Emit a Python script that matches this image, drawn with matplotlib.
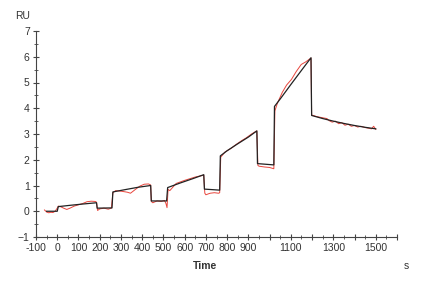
import matplotlib
matplotlib.use('Agg')
import matplotlib.pyplot as plt
from matplotlib.ticker import MultipleLocator, FixedLocator

plt.rcParams['font.family'] = ['Liberation Sans', 'DejaVu Sans']

# fitted curve (black), breakpoints
fit_t = [-50, 0, 5, 60, 120, 185, 188, 258, 262, 320, 380, 440, 443, 515, 520,
         580, 640, 690, 693, 765, 768, 800, 850, 900, 940, 943, 1020, 1023,
         1050, 1100, 1150, 1195, 1198, 1250, 1300, 1350, 1400, 1450, 1500]
fit_ru = [0.0, 0.0, 0.18, 0.23, 0.28, 0.33, 0.12, 0.13, 0.75, 0.84, 0.93, 1.0, 0.4, 0.4, 0.92,
          1.1, 1.27, 1.42, 0.86, 0.82, 2.15, 2.35, 2.62, 2.88, 3.12, 1.85, 1.8, 4.07,
          4.36, 4.92, 5.47, 5.96, 3.72, 3.6, 3.5, 3.41, 3.33, 3.26, 3.2]

# measured response (red)
meas_t = [-60, -50, -40, -30, -20, -10, 0, 5, 15, 30, 45, 60, 80, 100, 120, 140,
          160, 180, 185, 190, 200, 220, 240, 255, 262, 275, 300, 330, 345, 370, 390,
          410, 430, 440, 443, 450, 470, 490, 505, 512, 517, 522, 530, 560, 600,
          650, 690, 695, 700, 720, 740, 760, 765, 770, 790, 820, 840, 870, 890, 915,
          935, 940, 945, 950, 975, 1000, 1020, 1025, 1037, 1060, 1080, 1103, 1125,
          1149, 1170, 1195, 1198, 1220, 1250, 1270, 1280, 1295, 1310, 1325, 1340,
          1355, 1370, 1385, 1400, 1415, 1430, 1450, 1470, 1480, 1490, 1500]
meas_ru = [0.05, -0.03, -0.06, -0.04, -0.05, 0.0, 0.12, 0.2, 0.18, 0.12, 0.07, 0.12, 0.2, 0.25, 0.3, 0.37,
           0.39, 0.38, 0.35, 0.03, 0.09, 0.12, 0.08, 0.12, 0.72, 0.8, 0.78, 0.74, 0.7, 0.86, 0.98,
           1.05, 1.06, 1.02, 0.38, 0.33, 0.4, 0.38, 0.42, 0.3, 0.14, 0.85, 0.8, 1.08, 1.2,
           1.33, 1.4, 0.7, 0.64, 0.7, 0.72, 0.7, 0.72, 2.1, 2.3, 2.45, 2.58, 2.75, 2.85, 3.0,
           3.1, 3.12, 1.78, 1.75, 1.72, 1.7, 1.65, 3.9, 4.2, 4.62, 4.9, 5.12, 5.42,
           5.7, 5.8, 5.95, 3.74, 3.68, 3.63, 3.6, 3.52, 3.46, 3.5, 3.4, 3.44,
           3.34, 3.38, 3.3, 3.33, 3.27, 3.3, 3.25, 3.22, 3.2, 3.3, 3.18]

x_labels = {-100: '-100', 0: '0', 100: '100', 200: '200', 300: '300', 400: '400',
            500: '500', 600: '600', 700: '700', 800: '800', 900: '900',
            1100: '1100', 1300: '1300', 1500: '1500'}

txt = '#333333'
fig = plt.figure(figsize=(4.3, 2.81), dpi=100)
ax = fig.add_axes([36 / 430, 1 - 237 / 281, (397 - 36) / 430, (237 - 31) / 281])

ax.plot(meas_t, meas_ru, color='#e8453c', lw=0.7)
ax.plot(fit_t, fit_ru, color='#222222', lw=0.9)

ax.set_xlim(-100, 1600)
ax.set_ylim(-1, 7)
for s in ['top', 'right']:
    ax.spines[s].set_visible(False)
for s in ['left', 'bottom']:
    ax.spines[s].set_color('#444444')
    ax.spines[s].set_linewidth(0.8)

xt = list(range(-100, 1601, 100))
ax.xaxis.set_major_locator(FixedLocator(xt))
ax.set_xticklabels([x_labels.get(v, '') for v in xt])
ax.xaxis.set_minor_locator(MultipleLocator(50))
ax.yaxis.set_major_locator(MultipleLocator(1))
ax.yaxis.set_minor_locator(MultipleLocator(0.5))
ax.tick_params(which='major', direction='inout', length=5, width=0.8,
               labelsize=7.5, colors='#444444', labelcolor=txt, pad=2)
ax.tick_params(which='minor', direction='inout', length=3, width=0.6, colors='#444444')

fig.text(15 / 430, 1 - 16 / 281, 'RU', fontsize=7.5, color=txt, ha='left', va='center')
fig.text(205 / 430, 1 - 266 / 281, 'Time', fontsize=7.5, color=txt, ha='center',
         va='center', fontweight='bold')
fig.text(406 / 430, 1 - 266 / 281, 's', fontsize=7.5, color=txt, ha='center', va='center')

fig.savefig('out.png', dpi=100)
